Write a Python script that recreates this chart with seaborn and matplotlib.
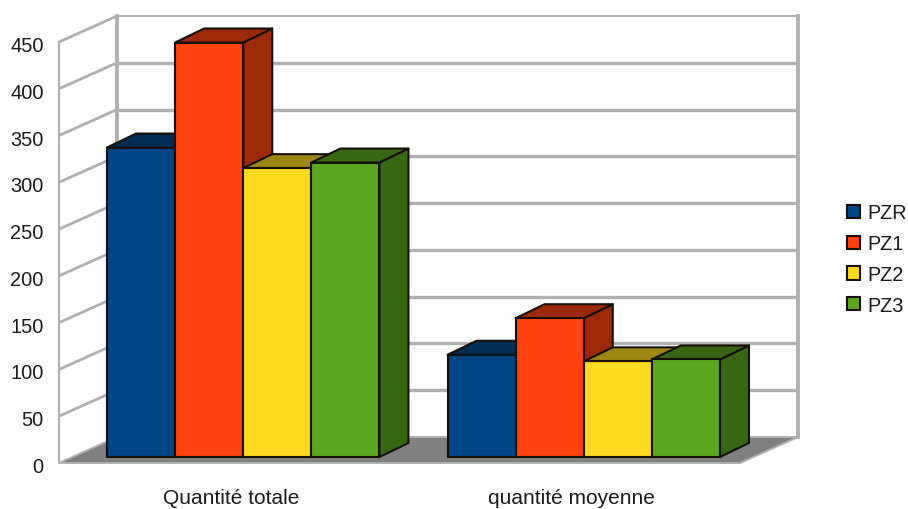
import matplotlib
matplotlib.use("Agg")
import matplotlib.pyplot as plt
from matplotlib.colors import to_rgb
from matplotlib.patches import Polygon
from matplotlib.transforms import ScaledTranslation
import pandas as pd
import seaborn as sns

categories = ["Quantité totale", "quantité moyenne"]
zones = ["PZR", "PZ1", "PZ2", "PZ3"]
pzr = [330, 109]
pz1 = [442, 148]
pz2 = [308, 102]
pz3 = [314, 104]
y_ticks = list(range(0, 451, 50))
palette = ["#004586", "#FF420E", "#FFD820", "#5AA61E"]

W, H = 908, 510
sns.set_theme(style="white")
plt.rcParams["font.family"] = ["Liberation Sans", "DejaVu Sans"]

df = pd.DataFrame({
    "categorie": categories * 4,
    "zone": [z for z in zones for _ in categories],
    "valeur": pzr + pz1 + pz2 + pz3,
})


def axes_rect(left, right, top, bottom):
    return [left / W, 1 - bottom / H, (right - left) / W, (bottom - top) / H]


fig = plt.figure(figsize=(W / 100, H / 100), dpi=100, facecolor="white")
frame = fig.add_axes(axes_rect(59, 740, 43, 464))
bars = fig.add_axes(axes_rect(73, 754, 36, 458))

# Chart box: floor, side wall and back wall seen in perspective
frame.set_xlim(-0.5, 1.5)
frame.set_ylim(0, 450)
px_x = 681 / 2
px_y = 421 / 450
dx = 58 / px_x
dy = 26 / px_y
x0, x1 = -0.5, 1.5
GRID = "#b0b0b0"

frame.add_patch(Polygon(
    [(x0, 0), (x1, 0), (x1 + dx, dy), (x0 + dx, dy)],
    closed=True, facecolor="#808080", edgecolor=GRID, linewidth=1.4,
    clip_on=False, zorder=2,
))
for v in y_ticks[1:]:
    frame.plot([x0, x0 + dx], [v, v + dy], color=GRID, lw=2.0,
               clip_on=False, zorder=1, solid_capstyle="butt")
    frame.plot([x0 + dx, x1 + dx], [v + dy, v + dy], color=GRID,
               lw=2.4 if v < 450 else 1.5, clip_on=False, zorder=1,
               solid_capstyle="butt")
frame.plot([x0, x0], [0, 450], color=GRID, lw=1.5, clip_on=False, zorder=1)
for xb in (x0 + dx, x1 + dx):
    frame.plot([xb, xb], [dy, 450 + dy], color=GRID, lw=2.8, clip_on=False,
               zorder=1, solid_capstyle="projecting")

frame.set_xticks([0, 1], categories)
frame.set_yticks(y_ticks)
frame.tick_params(axis="x", length=0, pad=18, labelsize=15, labelcolor="#1a1a1a")
frame.tick_params(axis="y", length=0, pad=11, labelsize=14.4, labelcolor="#1a1a1a")
frame.set_xlabel("")
frame.set_ylabel("")
frame.grid(False)
frame.patch.set_alpha(0)
for spine in frame.spines.values():
    spine.set_visible(False)
nudge = ScaledTranslation(0, -1.5 / 100, fig.dpi_scale_trans)
for label in frame.get_yticklabels():
    label.set_transform(label.get_transform() + nudge)
shift_right = ScaledTranslation(1.5 / 100, 0, fig.dpi_scale_trans)
for label in frame.get_xticklabels():
    label.set_transform(label.get_transform() + shift_right)

# Front faces of the columns come from seaborn; depth faces are added from them
EDGE = "#15100a"
sns.barplot(data=df, x="categorie", y="valeur", hue="zone", hue_order=zones,
            order=categories, palette=palette, saturation=1, width=0.8,
            edgecolor=EDGE, linewidth=1.5, ax=bars)
bars.set_xlim(-0.5, 1.5)
bars.set_ylim(0, 450)
bars.axis("off")

depth_x = 29 / px_x
depth_y = 14 / (422 / 450)
SHADE = 0.62
columns = [p for p in bars.patches if p.get_height() > 0]
columns.sort(key=lambda p: p.get_x())
for rank, col in enumerate(columns):
    xl, w, h = col.get_x(), col.get_width(), col.get_height()
    xr = xl + w
    dark = tuple(c * SHADE for c in to_rgb(col.get_facecolor()))
    base = 3 + rank * 3
    bars.add_patch(Polygon(
        [(xr, 0), (xr + depth_x, depth_y), (xr + depth_x, h + depth_y), (xr, h)],
        closed=True, facecolor=dark, edgecolor=EDGE, linewidth=1.5,
        joinstyle="round", clip_on=False, zorder=base,
    ))
    bars.add_patch(Polygon(
        [(xl, h), (xr, h), (xr + depth_x, h + depth_y), (xl + depth_x, h + depth_y)],
        closed=True, facecolor=dark, edgecolor=EDGE, linewidth=1.5,
        joinstyle="round", clip_on=False, zorder=base + 1,
    ))
    col.set_zorder(base + 2)
    col.set_clip_on(False)

sns.move_legend(
    bars, "center left", bbox_to_anchor=(847 / W, 1 - 260 / H),
    bbox_transform=fig.transFigure, title=None, frameon=False, ncol=1,
    fontsize=14.2, handlelength=0.66, handleheight=0.66, handletextpad=0.36,
    labelspacing=0.6, borderpad=0, borderaxespad=0,
)
for text in bars.get_legend().get_texts():
    text.set_color("#1a1a1a")

fig.savefig("out.png", dpi=100, facecolor="white")
